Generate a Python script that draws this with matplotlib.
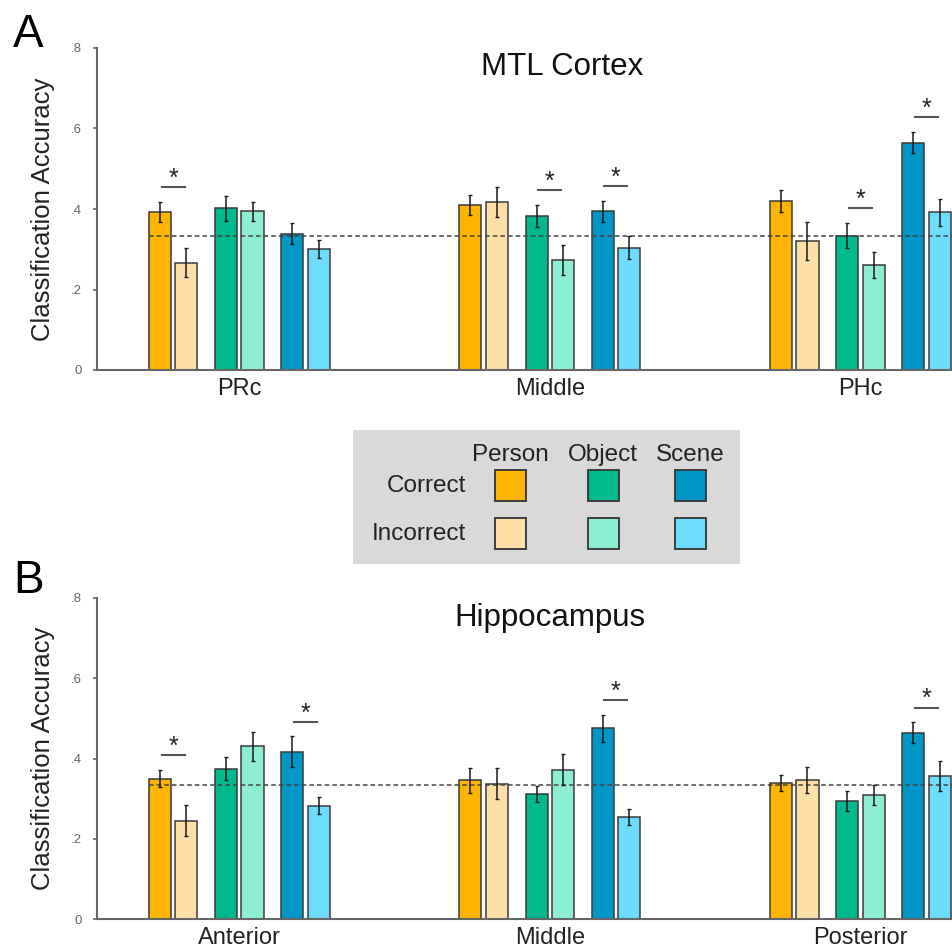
import numpy as np
import matplotlib
matplotlib.use("Agg")
import matplotlib.pyplot as plt
from matplotlib.patches import Rectangle

plt.rcParams['font.family'] = ['Liberation Sans', 'DejaVu Sans']

# ---------------- data ----------------
categories = ["Person", "Object", "Scene"]
conditions = ["Correct", "Incorrect"]
chance = 1 / 3

mtl_regions = ["PRc", "Middle", "PHc"]
mtl_correct = [[0.393, 0.402, 0.339],
               [0.410, 0.383, 0.394],
               [0.419, 0.334, 0.565]]
mtl_incorrect = [[0.267, 0.394, 0.300],
                 [0.417, 0.274, 0.304],
                 [0.321, 0.260, 0.392]]
mtl_correct_err = [[0.025, 0.031, 0.025],
                   [0.025, 0.027, 0.026],
                   [0.027, 0.032, 0.026]]
mtl_incorrect_err = [[0.036, 0.023, 0.022],
                     [0.037, 0.037, 0.028],
                     [0.047, 0.032, 0.034]]
mtl_sig = [(0, 0), (1, 1), (1, 2), (2, 1), (2, 2)]  # (region, category)

hpc_regions = ["Anterior", "Middle", "Posterior"]
hpc_correct = [[0.350, 0.375, 0.417],
               [0.346, 0.3125, 0.475],
               [0.339, 0.295, 0.464]]
hpc_incorrect = [[0.245, 0.430, 0.2825],
                 [0.3375, 0.3725, 0.254],
                 [0.347, 0.309, 0.357]]
hpc_correct_err = [[0.022, 0.029, 0.038],
                   [0.031, 0.020, 0.033],
                   [0.021, 0.025, 0.026]]
hpc_incorrect_err = [[0.038, 0.035, 0.022],
                     [0.038, 0.038, 0.0195],
                     [0.032, 0.024, 0.037]]
hpc_sig = [(0, 0), (0, 2), (1, 2), (2, 2)]

yticks = [0, 0.2, 0.4, 0.6, 0.8]
ytick_labels = ["0", ".2", ".4", ".6", ".8"]

# ---------------- style ----------------
col_correct = ["#FFB400", "#00B98C", "#0096C7"]
col_incorrect = ["#FFDFA8", "#8EEED4", "#6EDCFF"]
edge = "#3a3a3a"
spine_col = "#666666"

W = 952.0
fig = plt.figure(figsize=(9.52, 9.52), dpi=100)

bw = 0.071      # bar width (group spacing units)
dd = 0.0427     # half distance between pair bars
pp = 0.213      # distance between pairs
xl = (-0.458, 2.295)


def panel(rect, regions, corr, inc, cerr, ierr, sig, title, title_y, title_x, letter, letter_y):
    ax = fig.add_axes(rect)
    corr = np.array(corr); inc = np.array(inc)
    cerr = np.array(cerr); ierr = np.array(ierr)
    g = np.arange(len(regions))
    for k in range(3):
        xc = g + (k - 1) * pp - dd
        xi = g + (k - 1) * pp + dd
        ax.bar(xc, corr[:, k], bw, color=col_correct[k], edgecolor=edge, linewidth=1.1, zorder=2)
        ax.bar(xi, inc[:, k], bw, color=col_incorrect[k], edgecolor=edge, linewidth=1.1, zorder=2)
        ax.errorbar(xc, corr[:, k], yerr=cerr[:, k], fmt='none', ecolor='#1a1a1a',
                    elinewidth=1.1, capsize=1.5, capthick=1.0, zorder=4)
        ax.errorbar(xi, inc[:, k], yerr=ierr[:, k], fmt='none', ecolor='#1a1a1a',
                    elinewidth=1.1, capsize=1.5, capthick=1.0, zorder=4)
    # chance line
    x0 = g[0] - pp - dd - bw / 2
    ax.plot([x0, xl[1]], [chance, chance], ls=(0, (3, 2)), color='#444444', lw=1.1, zorder=3)
    # significance
    for (r, k) in sig:
        c = r + (k - 1) * pp
        top = max(corr[r, k] + cerr[r, k], inc[r, k] + ierr[r, k])
        yl = top + 0.037
        ax.plot([c - 0.037, c + 0.037], [yl, yl], color='#555555', lw=1.5, zorder=3)
        ax.text(c, yl + 0.003, "*", ha='center', va='baseline', fontsize=18, color='#222222')
    ax.set_xlim(*xl)
    ax.set_ylim(0, 0.8)
    ax.set_yticks(yticks)
    ax.set_yticklabels(ytick_labels)
    ax.set_xticks(g)
    ax.set_xticklabels(regions)
    ax.tick_params(axis='x', length=0, pad=6, labelsize=17, labelcolor='#222222')
    ax.tick_params(axis='y', length=3, width=1.2, color=spine_col, pad=8,
                   labelsize=9.5, labelcolor='#666666')
    for s in ['top', 'right']:
        ax.spines[s].set_visible(False)
    for s in ['left', 'bottom']:
        ax.spines[s].set_color(spine_col)
        ax.spines[s].set_linewidth(1.5)
    ax.patch.set_alpha(0)
    # y label
    yc = rect[1] + rect[3] / 2
    fig.text(43 / W, yc, "Classification Accuracy", rotation=90, ha='center', va='center',
             fontsize=18.5, color='#222222')
    fig.text(title_x / W, 1 - title_y / W, title, ha='center', va='baseline',
             fontsize=22.5, color='#111111')
    fig.text(13 / W, 1 - letter_y / W, letter, ha='left', va='baseline',
             fontsize=33, color='#000000')
    return ax


left = 97 / W
panel([left, 1 - 370 / W, 1 - left, 322 / W], mtl_regions, mtl_correct, mtl_incorrect,
      mtl_correct_err, mtl_incorrect_err, mtl_sig, "MTL Cortex", 75, 562, "A", 47)
panel([left, 1 - 919 / W, 1 - left, 321 / W], hpc_regions, hpc_correct, hpc_incorrect,
      hpc_correct_err, hpc_incorrect_err, hpc_sig, "Hippocampus", 626, 550, "B", 593)

# ---------------- legend ----------------
def fx(px):
    return px / W


def fy(py):
    return 1 - py / W


fig.patches.append(Rectangle((fx(353), fy(564)), (740 - 353) / W, (564 - 430) / W,
                             transform=fig.transFigure, facecolor='#d9d9d9',
                             edgecolor='none', zorder=0))
col_x = [510, 603, 690]
for k, name in enumerate(categories):
    fig.text(fx(col_x[k]), fy(461), name, ha='center', va='baseline', fontsize=17.5, color='#222222')
row_y = [470, 518]
for j, cond in enumerate(conditions):
    fig.text(fx(466), fy(row_y[j] + 22), cond, ha='right', va='baseline', fontsize=17.5,
             color='#222222')
    cols = col_correct if j == 0 else col_incorrect
    for k in range(3):
        sx = [495, 588, 675][k]
        fig.patches.append(Rectangle((fx(sx), fy(row_y[j] + 31)), 31 / W, 31 / W,
                                     transform=fig.transFigure, facecolor=cols[k],
                                     edgecolor='#333333', linewidth=1.3, zorder=1))

fig.savefig("out.png", dpi=100)
